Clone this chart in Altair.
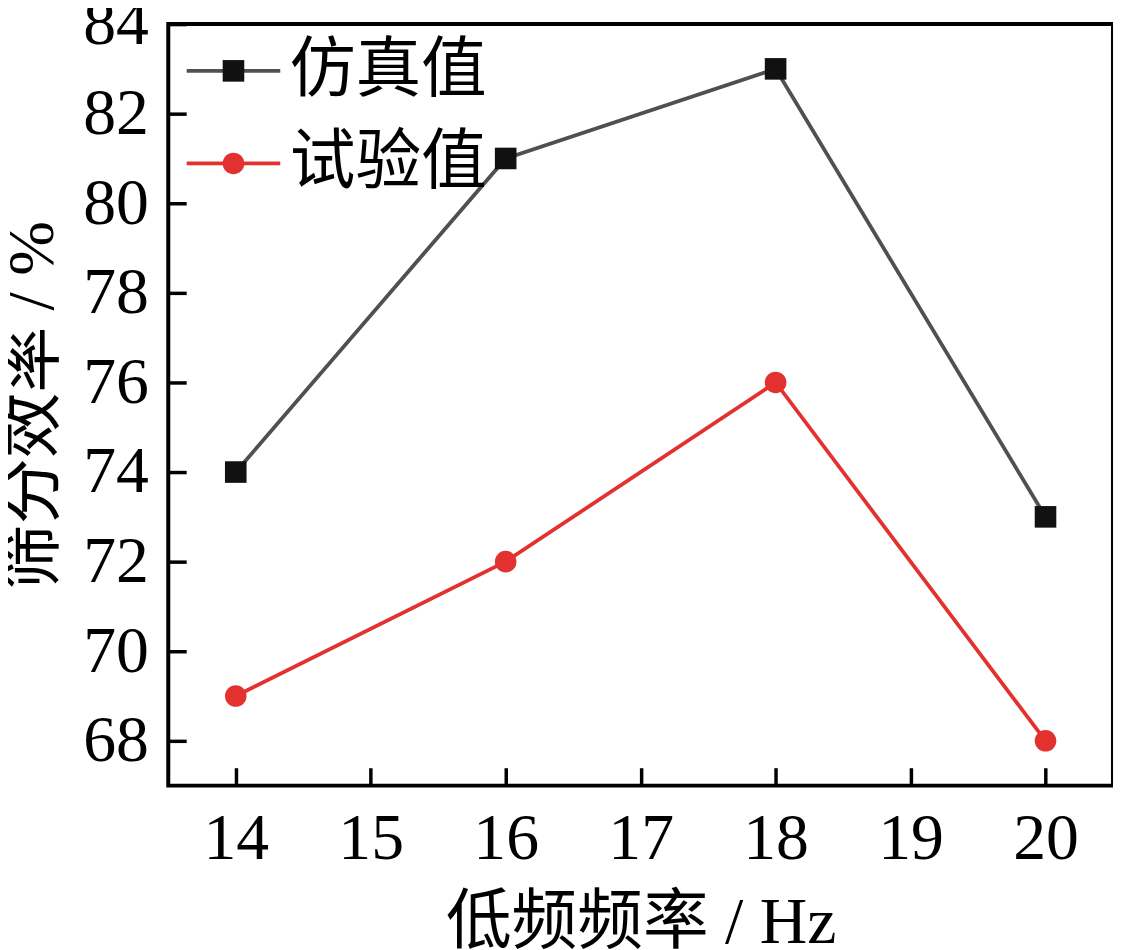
import altair as alt
import pandas as pd

freq = [14, 16, 18, 20]
sim_values = [74, 81, 83, 73]
exp_values = [69, 72, 76, 68]
series_names = ["仿真值", "试验值"]
marker_keys = ["仿真值 ", "试验值 "]
x_ticks = [14, 15, 16, 17, 18, 19, 20]
y_ticks = [68, 70, 72, 74, 76, 78, 80, 82, 84]

rows = []
for f, v in zip(freq, sim_values):
    rows.append({"freq": f, "val": v, "series": series_names[0], "series_b": marker_keys[0]})
for f, v in zip(freq, exp_values):
    rows.append({"freq": f, "val": v, "series": series_names[1], "series_b": marker_keys[1]})
df = pd.DataFrame(rows)

W, H = 949, 765
LATIN = "Liberation Serif"
MIXED = "'Liberation Serif', 'Noto Sans CJK SC'"

xs = alt.Scale(domain=[13.5, 20.5], nice=False, zero=False)
ys = alt.Scale(domain=[67, 84], nice=False, zero=False)

x_axis_main = alt.Axis(
    orient="bottom",
    values=x_ticks, ticks=False, domain=False, grid=False,
    labelFont=LATIN, labelFontSize=66, labelColor="black", labelPadding=21,
    title="低频频率 / Hz", titleFont=MIXED, titleFontSize=66,
    titleFontWeight="normal", titleColor="black", titlePadding=20,
)
y_axis_main = alt.Axis(
    orient="left",
    values=y_ticks, ticks=False, domain=False, grid=False,
    labelFont=LATIN, labelFontSize=66, labelColor="black", labelPadding=20,
    labelFlush=False,
    title="筛分效率 / %", titleFont=MIXED, titleFontSize=66,
    titleFontWeight="normal", titleColor="black", titlePadding=16,
)

leg_line = alt.Legend(
    orient="none", legendX=32.5, legendY=14, title=None,
    symbolType="M-2,0H2", symbolSize=2209, symbolStrokeWidth=3.8,
    labelFont=MIXED, labelFontSize=66, labelColor="black", labelOffset=23.5,
    labelLimit=500, rowPadding=27, padding=0,
)
leg_pts = alt.Legend(
    orient="none", legendX=32.5, legendY=14, title=None,
    symbolSize=470, symbolStrokeWidth=0,
    labelFont=MIXED, labelFontSize=66, labelOpacity=0,
    labelLimit=500, rowPadding=27, padding=0,
)

base = alt.Chart(df)

lines = base.mark_line(strokeWidth=3.8).encode(
    x=alt.X("freq:Q", scale=xs, axis=x_axis_main),
    y=alt.Y("val:Q", scale=ys, axis=y_axis_main),
    color=alt.Color("series:N", scale=alt.Scale(domain=series_names, range=["#505050", "#e3312f"]), legend=leg_line),
)

points = base.mark_point(filled=True, opacity=1, size=470, strokeWidth=0).encode(
    x=alt.X("freq:Q", scale=xs, axis=None),
    y=alt.Y("val:Q", scale=ys, axis=None),
    fill=alt.Fill("series_b:N", scale=alt.Scale(domain=marker_keys, range=["#111111", "#e3312f"]), legend=leg_pts),
    shape=alt.Shape("series_b:N", scale=alt.Scale(domain=marker_keys, range=["square", "circle"]), legend=leg_pts),
)

tick_layer = base.mark_point(opacity=0).encode(
    x=alt.X("freq:Q", scale=xs, axis=alt.Axis(
        orient="top", offset=-H, values=x_ticks, labels=False, domain=False, grid=False,
        ticks=True, tickSize=18, tickWidth=3.5, tickColor="black", title=None)),
    y=alt.Y("val:Q", scale=ys, axis=alt.Axis(
        orient="right", offset=-W, values=y_ticks, labels=False, domain=False, grid=False,
        ticks=True, tickSize=18, tickWidth=3.5, tickColor="black", title=None)),
)

chart = alt.layer(lines, points, tick_layer).resolve_axis(
    x="independent", y="independent"
).properties(
    width=W, height=H,
    autosize=alt.AutoSizeParams(type="none"),
    padding={"left": 161, "top": 14, "right": 0, "bottom": 171},
    background="white",
).configure_view(stroke="black", strokeWidth=4)

chart.save("out.html", embed_options={"renderer": "svg", "actions": False})
